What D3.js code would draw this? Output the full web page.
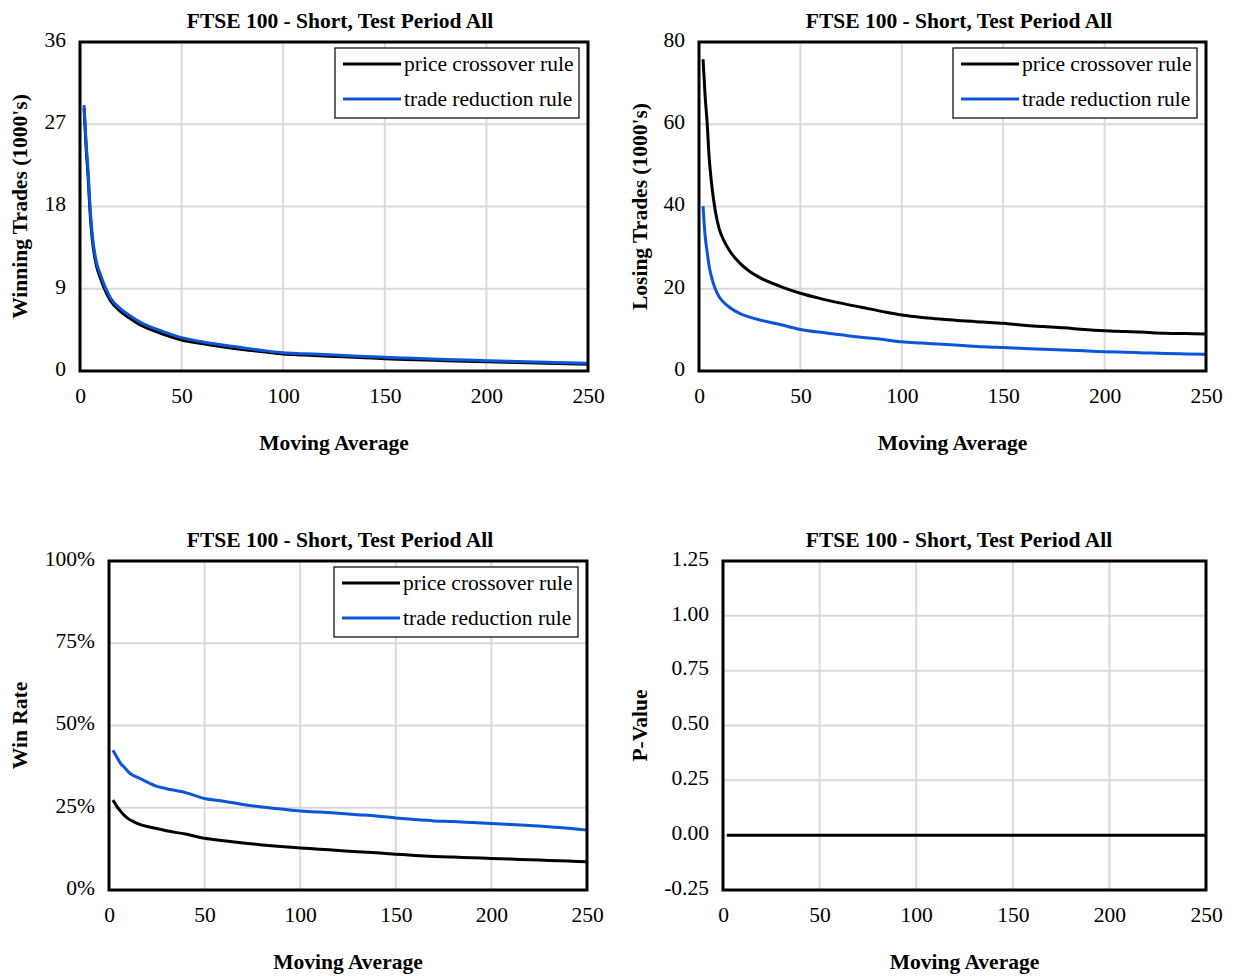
<!DOCTYPE html>
<html>
<head>
<meta charset="utf-8">
<script src="https://cdn.jsdelivr.net/npm/d3@7"></script>
<style>
    body { margin: 0; background: #fff; }
    svg { display: block; font-family: "Liberation Serif", "Times New Roman", serif; }
    .grid line { stroke: #d9d9d9; stroke-width: 2; }
    .axis text { font-family: "Liberation Serif", "Times New Roman", serif; font-size: 21.5px; fill: #000; }
</style>
</head>
<body>
<div id="chart"></div>
<script>
'use strict';

// Moving average lengths (x values)
const movingAverage = [2, 3, 4, 5, 6, 8, 10, 12, 15, 20, 25, 30, 40, 50, 60, 70, 80, 90, 100,
    110, 120, 130, 140, 150, 160, 170, 180, 190, 200, 210, 220, 230, 240, 250];

// Series names
const seriesNames = ['price crossover rule', 'trade reduction rule'];

// Winning trades (1000's)
const winPrice = [28.8, 24.5, 21.2, 17.2, 14.5, 11.6, 10.2, 9.0, 7.7, 6.5, 5.7, 5.0, 4.1, 3.4, 3.0, 2.65, 2.35, 2.1, 1.85,
    1.75, 1.65, 1.55, 1.45, 1.35, 1.27, 1.2, 1.13, 1.07, 1.0, 0.95, 0.9, 0.85, 0.8, 0.75];
const winReduction = [29.1, 25.0, 21.8, 17.8, 15.0, 12.0, 10.6, 9.4, 8.0, 6.8, 6.0, 5.3, 4.4, 3.65, 3.2, 2.85, 2.55, 2.25, 2.0,
    1.9, 1.8, 1.7, 1.6, 1.5, 1.42, 1.34, 1.27, 1.2, 1.13, 1.07, 1.01, 0.95, 0.9, 0.85];

// Losing trades (1000's)
const losePrice = [75.8, 67.0, 60.5, 52.0, 46.5, 39.0, 34.5, 32.0, 29.3, 26.3, 24.2, 22.7, 20.6, 18.9, 17.6, 16.5, 15.5, 14.5, 13.6,
    13.0, 12.6, 12.2, 11.9, 11.6, 11.1, 10.8, 10.5, 10.1, 9.8, 9.6, 9.4, 9.2, 9.1, 9.0];
const loseReduction = [40.1, 33.0, 29.0, 25.5, 23.2, 20.0, 18.0, 16.8, 15.5, 14.0, 13.1, 12.4, 11.3, 10.1, 9.4, 8.8, 8.2, 7.7, 7.1,
    6.8, 6.5, 6.2, 5.9, 5.7, 5.5, 5.3, 5.1, 4.9, 4.7, 4.55, 4.4, 4.25, 4.15, 4.06];

// Win rate (%)
const ratePrice = [27.3, 26.5, 25.5, 24.7, 24.0, 22.7, 21.7, 21.0, 20.2, 19.3, 18.7, 18.0, 17.0, 15.7, 15.0, 14.3, 13.7, 13.2, 12.8,
    12.4, 12.0, 11.6, 11.3, 10.9, 10.5, 10.2, 10.0, 9.8, 9.6, 9.4, 9.2, 9.0, 8.8, 8.6];
const rateReduction = [42.5, 41.5, 40.5, 39.5, 38.5, 37.3, 36.0, 35.0, 34.2, 32.8, 31.5, 30.8, 29.6, 27.8, 27.0, 26.0, 25.2, 24.6, 24.0,
    23.7, 23.3, 22.9, 22.5, 21.9, 21.4, 21.0, 20.8, 20.5, 20.2, 19.9, 19.6, 19.2, 18.8, 18.2];

// P-value
const pValue = [0, 0, 0, 0, 0, 0, 0, 0, 0, 0, 0, 0, 0, 0, 0, 0, 0, 0, 0,
    0, 0, 0, 0, 0, 0, 0, 0, 0, 0, 0, 0, 0, 0, 0];

// Tick labels
const xTicks = [0, 50, 100, 150, 200, 250];
const winTicks = [0, 9, 18, 27, 36];
const loseTicks = [0, 20, 40, 60, 80];
const rateTicks = [0, 25, 50, 75, 100];
const pTicks = [-0.25, 0, 0.25, 0.5, 0.75, 1.0, 1.25];

const title = 'FTSE 100 - Short, Test Period All';
const colors = ['#000000', '#0b55d9'];

// Panels
const panels = [
    {left: 80, top: 42, right: 588, bottom: 371, titleX: 340, yTitleX: 20, yTitle: "Winning Trades (1000's)",
        yTicks: winTicks, fmt: d => d, series: [winPrice, winReduction], legend: true},
    {left: 699, top: 42, right: 1206, bottom: 371, titleX: 959, yTitleX: 640, yTitle: "Losing Trades (1000's)",
        yTicks: loseTicks, fmt: d => d, series: [losePrice, loseReduction], legend: true},
    {left: 109, top: 561, right: 587, bottom: 890, titleX: 340, yTitleX: 20, yTitle: 'Win Rate',
        yTicks: rateTicks, fmt: d => d + '%', series: [ratePrice, rateReduction], legend: true},
    {left: 723, top: 561, right: 1206, bottom: 890, titleX: 959, yTitleX: 640, yTitle: 'P-Value',
        yTicks: pTicks, fmt: d => (d < 0 ? '-' : '') + Math.abs(d).toFixed(2), series: [pValue], legend: false}
];

const svg = d3.select('#chart')
    .append('svg')
    .attr('width', 1236)
    .attr('height', 976);

panels.forEach(p => {
    const w = p.right - p.left;
    const h = p.bottom - p.top;

    const x = d3.scaleLinear().domain([0, 250]).range([0, w]);
    const y = d3.scaleLinear()
        .domain([p.yTicks[0], p.yTicks[p.yTicks.length - 1]])
        .range([h, 0]);

    const g = svg.append('g')
        .attr('transform', `translate(${p.left},${p.top})`);

    // Grid
    g.append('g')
        .attr('class', 'grid')
        .selectAll('line')
        .data(xTicks)
        .join('line')
        .attr('x1', d => x(d)).attr('x2', d => x(d))
        .attr('y1', 0).attr('y2', h);
    g.append('g')
        .attr('class', 'grid')
        .selectAll('line')
        .data(p.yTicks)
        .join('line')
        .attr('x1', 0).attr('x2', w)
        .attr('y1', d => y(d)).attr('y2', d => y(d));

    // Axes
    const xAxis = g.append('g')
        .attr('class', 'axis')
        .attr('transform', `translate(0,${h})`)
        .call(d3.axisBottom(x).tickValues(xTicks).tickSize(0).tickPadding(17));
    xAxis.select('.domain').remove();

    const yAxis = g.append('g')
        .attr('class', 'axis')
        .call(d3.axisLeft(y).tickValues(p.yTicks).tickSize(0).tickPadding(14).tickFormat(p.fmt));
    yAxis.select('.domain').remove();
    yAxis.selectAll('text').attr('dy', '0.2em');

    // Lines
    const line = d3.line()
        .curve(d3.curveMonotoneX)
        .x((d, i) => x(movingAverage[i]))
        .y(d => y(d));
    p.series.forEach((s, i) => {
        g.append('path')
            .datum(s)
            .attr('fill', 'none')
            .attr('stroke', colors[i])
            .attr('stroke-width', 3)
            .attr('stroke-linejoin', 'round')
            .attr('d', line);
    });

    // Border
    g.append('rect')
        .attr('width', w)
        .attr('height', h)
        .attr('fill', 'none')
        .attr('stroke', '#000')
        .attr('stroke-width', 3);

    // Title
    svg.append('text')
        .attr('x', p.titleX)
        .attr('y', p.top - 14)
        .attr('text-anchor', 'middle')
        .style('font-size', '21.5px')
        .style('font-weight', 'bold')
        .text(title);

    // X title
    svg.append('text')
        .attr('x', p.left + w / 2)
        .attr('y', p.bottom + 79)
        .attr('text-anchor', 'middle')
        .style('font-size', '21.5px')
        .style('font-weight', 'bold')
        .text('Moving Average');

    // Y title
    svg.append('text')
        .attr('transform', `translate(${p.yTitleX + 7},${p.top + h / 2}) rotate(-90)`)
        .attr('text-anchor', 'middle')
        .style('font-size', '21.5px')
        .style('font-weight', 'bold')
        .text(p.yTitle);

    // Legend
    if (p.legend) {
        const lg = g.append('g')
            .attr('transform', `translate(${w - 253},6)`);
        lg.append('rect')
            .attr('width', 244)
            .attr('height', 70)
            .attr('fill', '#fff')
            .attr('stroke', '#000')
            .attr('stroke-width', 1.2);
        seriesNames.forEach((name, i) => {
            const ly = 16 + i * 35;
            lg.append('line')
                .attr('x1', 8).attr('x2', 66)
                .attr('y1', ly).attr('y2', ly)
                .attr('stroke', colors[i])
                .attr('stroke-width', 3);
            lg.append('text')
                .attr('x', 69)
                .attr('y', ly + 7)
                .style('font-size', '21.5px')
                .text(name);
        });
    }
});
</script>
</body>
</html>
